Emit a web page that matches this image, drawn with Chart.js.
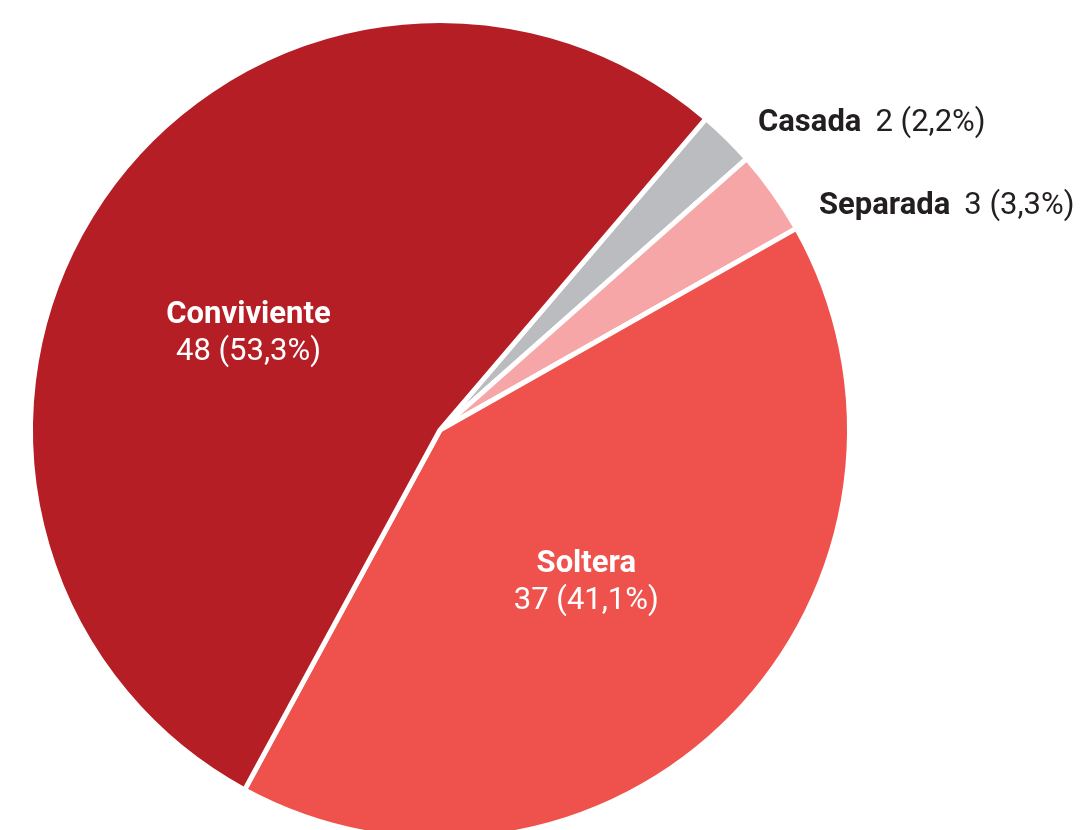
<!DOCTYPE html>
<html lang="es">
<head>
<meta charset="UTF-8"/>
<script src="https://cdn.jsdelivr.net/npm/chart.js"></script>
<style>
  html, body { margin: 0; padding: 0; background: #fff; overflow: hidden; }
  canvas { display: block; }
</style>
</head>
<body>
<canvas id="pieChart" width="1087" height="860"></canvas>
<script>
const labels = ['Casada', 'Separada', 'Soltera', 'Conviviente'];
const counts = [2, 3, 37, 48];
const percents = ['2,2%', '3,3%', '41,1%', '53,3%'];
const colours = ['#bbbcbf', '#f6a6a7', '#ef524c', '#b51e25'];

// where each label sits: inside the slice or out to the right
const labelPlace = [
    {outside: true, x: 758, y: 123},
    {outside: true, x: 819, y: 206},
    {outside: false, r: 0.517, shift: 1.8},
    {outside: false, r: 0.524, shift: -7.7}
];

const FONT = 'Roboto, "Liberation Sans", sans-serif';
const NAME_FONT = `bold 31px ${FONT}`;
const VALUE_FONT = `400 31px ${FONT}`;

const sliceLabels = {
    id: 'sliceLabels',
    afterDatasetsDraw(chart) {
        const ctx = chart.ctx;
        const arcs = chart.getDatasetMeta(0).data;
        ctx.save();
        ctx.textBaseline = 'middle';
        arcs.forEach((arc, i) => {
            const place = labelPlace[i];
            const name = labels[i];
            const value = `${counts[i]} (${percents[i]})`;
            if (place.outside) {
                ctx.fillStyle = '#231f20';
                ctx.textAlign = 'left';
                ctx.font = NAME_FONT;
                ctx.fillText(name, place.x, place.y);
                const w = ctx.measureText(name).width;
                ctx.font = VALUE_FONT;
                ctx.fillText(value, place.x + w + 14, place.y);
            } else {
                const {x, y, startAngle, endAngle, outerRadius} = arc.getProps(['x', 'y', 'startAngle', 'endAngle', 'outerRadius']);
                const mid = (startAngle + endAngle) / 2 + place.shift * Math.PI / 180;
                const cx = x + Math.cos(mid) * outerRadius * place.r;
                const cy = y + Math.sin(mid) * outerRadius * place.r;
                ctx.fillStyle = '#ffffff';
                ctx.textAlign = 'center';
                ctx.font = NAME_FONT;
                ctx.fillText(name, cx, cy - 18.5);
                ctx.font = VALUE_FONT;
                ctx.fillText(value, cx, cy + 18.5);
            }
        });
        ctx.restore();
    }
};

const ctx = document.getElementById('pieChart');
const pieChart = new Chart(ctx, {
    type: 'pie',
    data: {
        labels: labels,
        datasets: [{
            data: counts,
            backgroundColor: colours,
            borderColor: '#ffffff',
            borderWidth: 5
        }]
    },
    options: {
        responsive: false,
        animation: false,
        rotation: 40.5,
        layout: {padding: {left: 28, top: 18, right: 235, bottom: 18}},
        plugins: {
            legend: {display: false},
            tooltip: {enabled: false}
        }
    },
    plugins: [sliceLabels]
});
</script>
</body>
</html>
